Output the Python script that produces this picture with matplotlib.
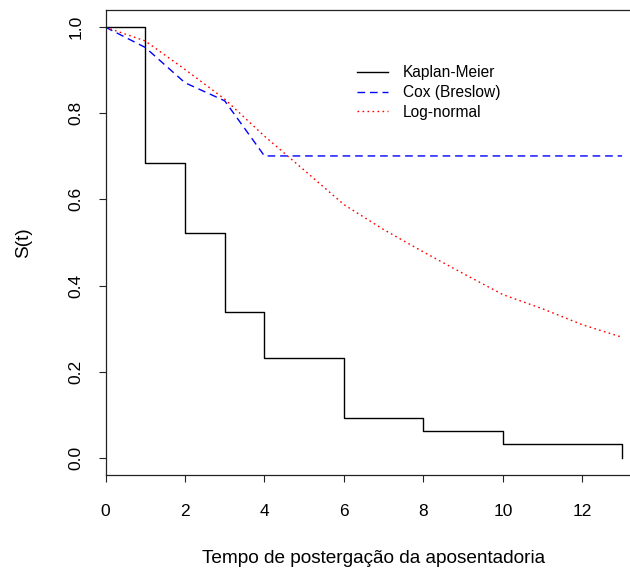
import numpy as np
import matplotlib
matplotlib.use("Agg")
import matplotlib.pyplot as plt

plt.rcParams["font.family"] = ["Liberation Sans", "DejaVu Sans"]

# Kaplan-Meier estimate (step function)
km_t = [0, 1, 2, 3, 4, 6, 8, 10, 13]
km_s = [1.0, 0.684, 0.523, 0.338, 0.231, 0.092, 0.062, 0.031, 0.0]

# Cox model, Breslow baseline
cox_t = [0, 1, 2, 3, 4, 13]
cox_s = [1.0, 0.953, 0.871, 0.829, 0.701, 0.701]

# fitted log-normal survival
ln_t = [0, 1, 2, 3, 4, 5, 6, 7, 8, 9, 10, 11, 12, 13]
ln_s = [1.0, 0.968, 0.902, 0.833, 0.747, 0.668, 0.588, 0.530, 0.478,
        0.428, 0.379, 0.346, 0.309, 0.280]

x_ticks = [0, 2, 4, 6, 8, 10, 12]
y_ticks = [0.0, 0.2, 0.4, 0.6, 0.8, 1.0]

fig = plt.figure(figsize=(6.3, 5.74), dpi=100)
ax = fig.add_axes([0.1675, 0.1725, 0.8514, 0.8101])

ax.step(km_t, km_s, where="post", color="black", lw=1.0, label="Kaplan-Meier")
ax.plot(cox_t, cox_s, color="blue", lw=1.0, linestyle=(0, (5.5, 3.5)),
        label="Cox (Breslow)")
ax.plot(ln_t, ln_s, color="red", lw=1.0, linestyle=(0, (1.2, 2.4)),
        label="Log-normal")

ax.set_xlim(0, 13.5)
ax.set_ylim(-0.04, 1.04)
ax.set_xticks(x_ticks)
ax.set_yticks(y_ticks)
ax.set_xticklabels([str(v) for v in x_ticks])
ax.set_yticklabels(["%.1f" % v for v in y_ticks])

for s in ax.spines.values():
    s.set_linewidth(0.9)
    s.set_color("#222222")
ax.tick_params(axis="both", direction="out", length=5, width=0.8,
               color="#222222", labelsize=12.5)
ax.tick_params(axis="x", pad=16)
ax.tick_params(axis="y", pad=11)
for lbl in ax.get_yticklabels():
    lbl.set_rotation(90)
    lbl.set_va("center")

ax.set_xlabel("Tempo de postergação da aposentadoria", fontsize=13.7)
ax.set_ylabel("S(t)", fontsize=13.7)
ax.xaxis.label.set_va("center")
ax.yaxis.label.set_va("center")
ax.xaxis.set_label_coords(0.5, -0.18)
ax.yaxis.set_label_coords(-0.153, 0.5)

ax.legend(loc="upper left", bbox_to_anchor=(0.566, 0.886),
          bbox_transform=fig.transFigure, frameon=False, fontsize=11.2,
          handlelength=2.0, handletextpad=1.0, labelspacing=0.3,
          borderpad=0, borderaxespad=0)

fig.savefig("out.png", dpi=100)
